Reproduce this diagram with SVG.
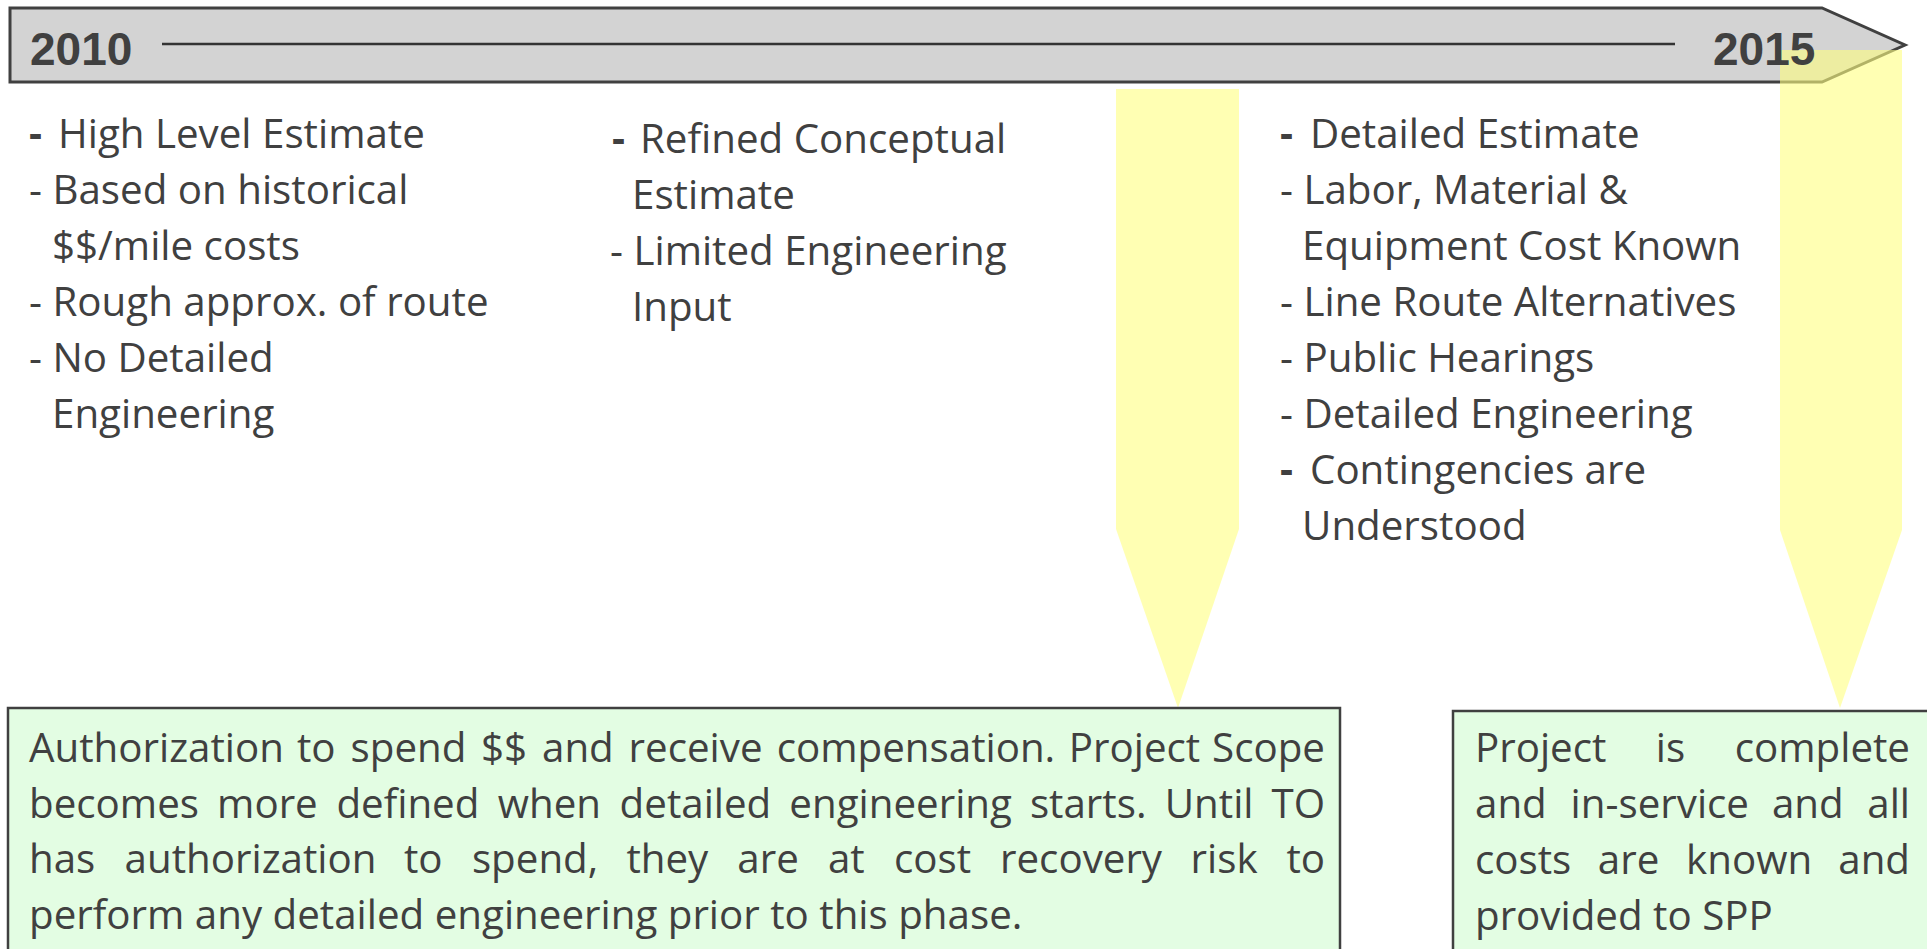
<svg xmlns="http://www.w3.org/2000/svg" width="1927" height="949" viewBox="0 0 1927 949">
<style>
.t{font-family:"Open Sans","Noto Sans",sans-serif;font-size:40.3px;fill:#404040}
.yr{font-family:"Liberation Sans",Arial,sans-serif;font-size:46px;font-weight:bold;fill:#404040}
.d{font-weight:bold}
.box{fill:#e3fde3;stroke:#404040;stroke-width:2.5}
.ptr{fill:#ffff80;fill-opacity:0.6}
</style>
<rect width="1927" height="949" fill="#ffffff"/>
<g id="timeline">
<polygon points="10,8 1822,8 1905,45 1822,82 10,82" fill="#d3d3d3" stroke="#404040" stroke-width="3" stroke-linejoin="miter"/>
<line x1="162" y1="44" x2="1675" y2="44" stroke="#333333" stroke-width="2.5"/>
</g>
<g id="phase1">
<text class="t" y="148"><tspan class="d" x="29">-</tspan><tspan x="58">High Level Estimate</tspan></text>
<text class="t" x="29" y="204">- Based on historical</text>
<text class="t" x="52" y="260">$$/mile costs</text>
<text class="t" x="29" y="316">- Rough approx. of route</text>
<text class="t" x="29" y="372">- No Detailed</text>
<text class="t" x="52" y="428">Engineering</text>
</g>
<g id="phase2">
<text class="t" y="153"><tspan class="d" x="612">-</tspan><tspan x="640">Refined Conceptual</tspan></text>
<text class="t" x="632" y="209">Estimate</text>
<text class="t" x="610" y="265">- Limited Engineering</text>
<text class="t" x="632" y="321">Input</text>
</g>
<g id="phase3">
<text class="t" y="148"><tspan class="d" x="1280">-</tspan><tspan x="1310">Detailed Estimate</tspan></text>
<text class="t" x="1280" y="204">- Labor, Material &amp;</text>
<text class="t" x="1302" y="260">Equipment Cost Known</text>
<text class="t" x="1280" y="316">- Line Route Alternatives</text>
<text class="t" x="1280" y="372">- Public Hearings</text>
<text class="t" x="1280" y="428">- Detailed Engineering</text>
<text class="t" y="484"><tspan class="d" x="1280">-</tspan><tspan x="1310">Contingencies are</tspan></text>
<text class="t" x="1302" y="540">Understood</text>
</g>
<g id="connectors">
<polygon class="ptr" points="1116,89 1239,89 1239,529 1178,708 1116,529"/>
<polygon class="ptr" points="1780,50 1902,50 1902,530 1840,708 1780,530"/>
</g>
<g id="years">
<text class="yr" x="30" y="65">2010</text>
<text class="yr" x="1713" y="65">2015</text>
</g>
<g id="authorization-box">
<rect class="box" x="8" y="708" width="1332" height="270"/>
<text class="t" y="762"><tspan x="29">Authorization</tspan><tspan x="297">to</tspan><tspan x="350.6">spend</tspan><tspan x="481">$$</tspan><tspan x="542">and</tspan><tspan x="628.6">receive</tspan><tspan x="776.7">compensation.</tspan><tspan x="1068.8">Project</tspan><tspan x="1325" text-anchor="end">Scope</tspan></text>
<text class="t" y="818"><tspan x="29">becomes</tspan><tspan x="217.1">more</tspan><tspan x="336.4">defined</tspan><tspan x="497.7">when</tspan><tspan x="619.6">detailed</tspan><tspan x="789.3">engineering</tspan><tspan x="1029.9">starts.</tspan><tspan x="1164.7">Until</tspan><tspan x="1325" text-anchor="end">TO</tspan></text>
<text class="t" y="873"><tspan x="29">has</tspan><tspan x="124.6">authorization</tspan><tspan x="403.9">to</tspan><tspan x="471.9">spend,</tspan><tspan x="626.4">they</tspan><tspan x="737.3">are</tspan><tspan x="827.9">at</tspan><tspan x="894">cost</tspan><tspan x="1000">recovery</tspan><tspan x="1190.6">risk</tspan><tspan x="1325" text-anchor="end">to</tspan></text>
<text class="t" x="29" y="929">perform any detailed engineering prior to this phase.</text>
</g>
<g id="complete-box">
<rect class="box" x="1453" y="711" width="500" height="270"/>
<text class="t" y="762"><tspan x="1475">Project</tspan><tspan x="1655.8">is</tspan><tspan x="1910" text-anchor="end">complete</tspan></text>
<text class="t" y="818"><tspan x="1475">and</tspan><tspan x="1570.6">in-service</tspan><tspan x="1771.9">and</tspan><tspan x="1910" text-anchor="end">all</tspan></text>
<text class="t" y="874"><tspan x="1475">costs</tspan><tspan x="1597.8">are</tspan><tspan x="1686.1">known</tspan><tspan x="1910" text-anchor="end">and</tspan></text>
<text class="t" x="1475" y="930">provided to SPP</text>
</g>
</svg>
